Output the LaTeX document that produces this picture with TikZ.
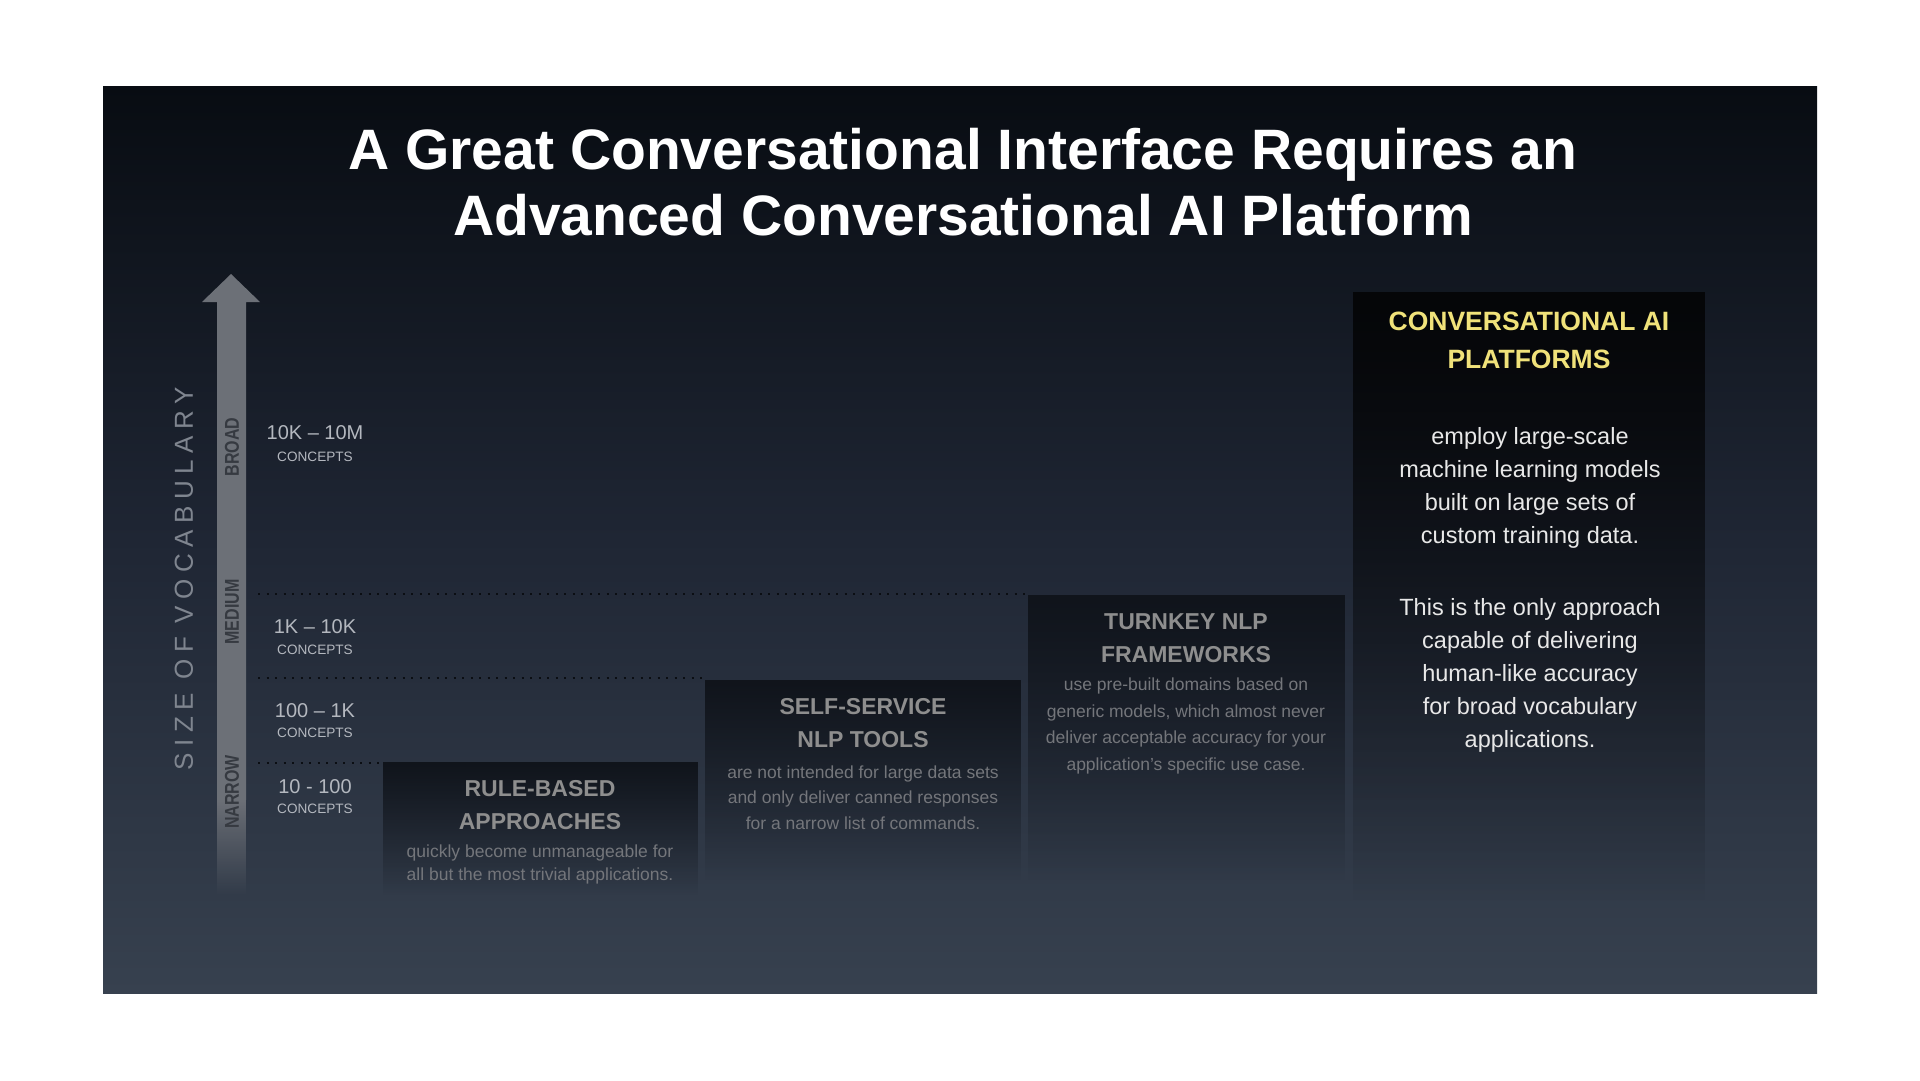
\documentclass[tikz,border=0pt]{standalone}
\usepackage{fontspec}
\setmainfont{Liberation Sans}
\newfontfamily\narrowfont[FakeStretch=0.8]{Liberation Sans}
\newfontfamily\trackedfont[LetterSpace=25]{Liberation Sans}
\usetikzlibrary{fadings}

% slide palette
\definecolor{slidetop}{HTML}{080C12}
\definecolor{slidemid}{HTML}{1F2634}
\definecolor{slidebot}{HTML}{37414F}
\definecolor{boxdark}{HTML}{10141B}
\definecolor{boxblack}{HTML}{050608}
\definecolor{shaftgrey}{HTML}{6C7077}
\definecolor{shafttext}{HTML}{363A41}
\definecolor{axisgrey}{HTML}{7F858F}
\definecolor{rangegrey}{HTML}{B4B8BF}
\definecolor{headgrey}{HTML}{8E8E8E}
\definecolor{bodygrey}{HTML}{74767B}
\definecolor{platyellow}{HTML}{F0E27A}
\definecolor{platwhite}{HTML}{E8E8E8}
\definecolor{dotcolor}{HTML}{0B0E13}

% boxes stay solid for most of their height, then melt into the slide
\tikzfading[name=boxfade, top color=transparent!0, middle color=transparent!20, bottom color=transparent!100]

\begin{document}
\begin{tikzpicture}[x=1pt,y=-1pt,
  titletext/.style={text=white, font=\bfseries\fontsize{57}{66}\selectfont, align=center, inner sep=0},
  boxarea/.style={inner sep=0, draw=none},
  boxhead/.style={text=headgrey, font=\bfseries\fontsize{23}{33}\selectfont, align=center, inner sep=0},
  boxbody/.style={text=bodygrey, font=\fontsize{17.5}{26.5}\selectfont, align=center, inner sep=0},
  plathead/.style={text=platyellow, font=\bfseries\fontsize{26.5}{38}\selectfont, align=center, inner sep=0},
  platbody/.style={text=platwhite, font=\fontsize{23.5}{33}\selectfont, align=center, inner sep=0},
  rangeval/.style={text=rangegrey, font=\fontsize{20}{24}\selectfont, inner sep=0},
  rangeunit/.style={text=rangegrey, font=\fontsize{13.6}{16}\selectfont, inner sep=0},
  shaftlabel/.style={text=shafttext, rotate=90, font=\narrowfont\bfseries\fontsize{20}{24}\selectfont, inner sep=0},
  axislabel/.style={text=axisgrey, rotate=90, font=\trackedfont\fontsize{26}{30}\selectfont, inner sep=0},
  dotline/.style={draw=dotcolor, line width=2pt, dash pattern=on 2pt off 6.5pt}
]
\useasboundingbox (0,0) rectangle (1920,1080);
\fill[white] (0,0) rectangle (1920,1080);

% slide background
\shade[top color=slidetop, bottom color=slidebot, middle color=slidemid] (103,86) rectangle (1817,993);

% title
\node[titletext] (title) at (963,182) {A Great Conversational Interface Requires an\\Advanced Conversational AI Platform};

% vocabulary axis arrow: solid head and shaft, fading tail
\fill[shaftgrey]
  (217,302) -- (202,302) -- (231,274) -- (260,302) -- (246,302) -- (246,800) -- (217,800) -- cycle;
\fill[shaftgrey, path fading=south] (217,799.5) rectangle (246,895);
\node[axislabel] (axis) at (184,579) {SIZE OF VOCABULARY};
\node[shaftlabel] (broad) at (232,447) {BROAD};
\node[shaftlabel] (medium) at (232,612) {MEDIUM};
\node[shaftlabel] (narrow) at (232,792) {NARROW};

% step boxes
\node[boxarea, minimum width=315, minimum height=133] (rule) at (540.5,828.5) {};
\node[boxarea, minimum width=316, minimum height=200] (selfsvc) at (863,780) {};
\node[boxarea, minimum width=317, minimum height=285] (turnkey) at (1186.5,737.5) {};
\node[boxarea, minimum width=352, minimum height=608] (platform) at (1529,596) {};

\fill[boxdark, path fading=boxfade] (rule.north west) rectangle (rule.south east);
\fill[boxdark, path fading=boxfade] (selfsvc.north west) rectangle (selfsvc.south east);
\fill[boxdark, path fading=boxfade] (turnkey.north west) rectangle (turnkey.south east);
\fill[boxblack, path fading=boxfade] (platform.north west) rectangle (platform.south east);

% level separators
\coordinate (lvlhigh) at (258,594);
\coordinate (lvlmid) at (258,678);
\coordinate (lvllow) at (258,763);
\draw[dotline] (lvlhigh) -- (lvlhigh -| turnkey.west);
\draw[dotline] (lvlmid) -- (lvlmid -| selfsvc.west);
\draw[dotline] (lvllow) -- (lvllow -| rule.west);

% vocabulary ranges
\node[rangeval] (r4) at (315,433) {10K – 10M};
\node[rangeunit] (u4) at (315,457) {CONCEPTS};
\node[rangeval] (r3) at (315,627) {1K – 10K};
\node[rangeunit] (u3) at (315,650) {CONCEPTS};
\node[rangeval] (r2) at (315,711) {100 – 1K};
\node[rangeunit] (u2) at (315,733) {CONCEPTS};
\node[rangeval] (r1) at (315,787) {10 - 100};
\node[rangeunit] (u1) at (315,809) {CONCEPTS};

% box texts
\node[boxhead] (ruleh) at (540,805) {RULE-BASED\\APPROACHES};
\node[boxbody, font=\fontsize{17.5}{23}\selectfont] (ruleb) at (540,864) {quickly become unmanageable for\\all but the most trivial applications.};

\node[boxhead] (selfh) at (863,723.5) {SELF-SERVICE\\NLP TOOLS};
\node[boxbody, font=\fontsize{17.5}{25.5}\selectfont] (selfb) at (863,797.5) {are not intended for large data sets\\and only deliver canned responses\\for a narrow list of commands.};

\node[boxhead] (turnh) at (1186,638.5) {TURNKEY NLP\\FRAMEWORKS};
\node[boxbody] (turnb) at (1186,726) {use pre-built domains based on\\generic models, which almost never\\deliver acceptable accuracy for your\\application's specific use case.};

\node[plathead] (plath) at (1529,340) {CONVERSATIONAL AI\\PLATFORMS};
\node[platbody] (platb1) at (1530,487.5) {employ large-scale\\machine learning models\\built on large sets of\\custom training data.};
\node[platbody] (platb2) at (1530,675) {This is the only approach\\capable of delivering\\human-like accuracy\\for broad vocabulary\\applications.};
\end{tikzpicture}
\end{document}
